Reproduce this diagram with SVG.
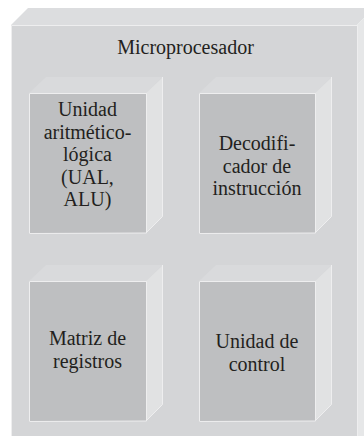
<svg xmlns="http://www.w3.org/2000/svg" width="364" height="436" viewBox="0 0 364 436">
<style>
.of{fill:#d4d5d7}
.ot{fill:#dcdddf}
.os{fill:#e6e7e8}
.f{fill:#bebfc1}
.t{fill:#d9dadc}
.s{fill:#e1e2e3}
.hl{fill:none;stroke:#eeeeef;stroke-width:1}
.tx{font-family:'Liberation Serif','DejaVu Serif','Times New Roman',serif;font-size:20px;fill:#231f20;text-anchor:middle}
</style>
<rect width="364" height="436" fill="#ffffff"/>
<g id="microprocesador">
<polygon class="ot" points="11,25 28,8 374,8 357,25"/>
<polygon class="os" points="357,25 374,8 374,440 357,440"/>
<rect class="of" x="11" y="25" width="346" height="415"/>
<polyline class="hl" points="11.5,440 11.5,25.5 357.5,25.5 357.5,440"/>
<text class="tx" x="185.5" y="54">Microprocesador</text>
</g>
<g id="ual">
<polygon class="t" points="29,93 46,77 163,77 146,93"/>
<polygon class="s" points="146,93 163,77 163,216 146,233"/>
<rect class="f" x="29" y="93" width="117" height="140"/>
<polyline class="hl" points="29.5,233 29.5,93.5 146.5,93.5 146.5,233 29.5,233.5"/>
<polyline class="hl" points="162.5,77 162.5,216.5 146.5,232.5"/>
<text class="tx" x="87.5" y="116">Unidad</text>
<text class="tx" x="87.5" y="138.5">aritmético-</text>
<text class="tx" x="87.5" y="161">lógica</text>
<text class="tx" x="87.5" y="183.5">(UAL,</text>
<text class="tx" x="87.5" y="206">ALU)</text>
</g>
<g id="decodificador">
<polygon class="t" points="199,93 216,77 332,77 315,93"/>
<polygon class="s" points="315,93 332,77 332,216 315,233"/>
<rect class="f" x="199" y="93" width="116" height="140"/>
<polyline class="hl" points="199.5,233 199.5,93.5 315.5,93.5 315.5,233 199.5,233.5"/>
<polyline class="hl" points="331.5,77 331.5,216.5 315.5,232.5"/>
<text class="tx" x="257" y="150">Decodifi-</text>
<text class="tx" x="257" y="172.5">cador de</text>
<text class="tx" x="257" y="195">instrucción</text>
</g>
<g id="matriz">
<polygon class="t" points="29,281 46,265 163,265 146,281"/>
<polygon class="s" points="146,281 163,265 163,404 146,421"/>
<rect class="f" x="29" y="281" width="117" height="140"/>
<polyline class="hl" points="29.5,421 29.5,281.5 146.5,281.5 146.5,421 29.5,421.5"/>
<polyline class="hl" points="162.5,265 162.5,404.5 146.5,420.5"/>
<text class="tx" x="87.5" y="345">Matriz de</text>
<text class="tx" x="87.5" y="367.5">registros</text>
</g>
<g id="control">
<polygon class="t" points="199,281 216,265 332,265 315,281"/>
<polygon class="s" points="315,281 332,265 332,404 315,421"/>
<rect class="f" x="199" y="281" width="116" height="140"/>
<polyline class="hl" points="199.5,421 199.5,281.5 315.5,281.5 315.5,421 199.5,421.5"/>
<polyline class="hl" points="331.5,265 331.5,404.5 315.5,420.5"/>
<text class="tx" x="257" y="348">Unidad de</text>
<text class="tx" x="257" y="371">control</text>
</g>
<g id="connectors"></g>
</svg>
